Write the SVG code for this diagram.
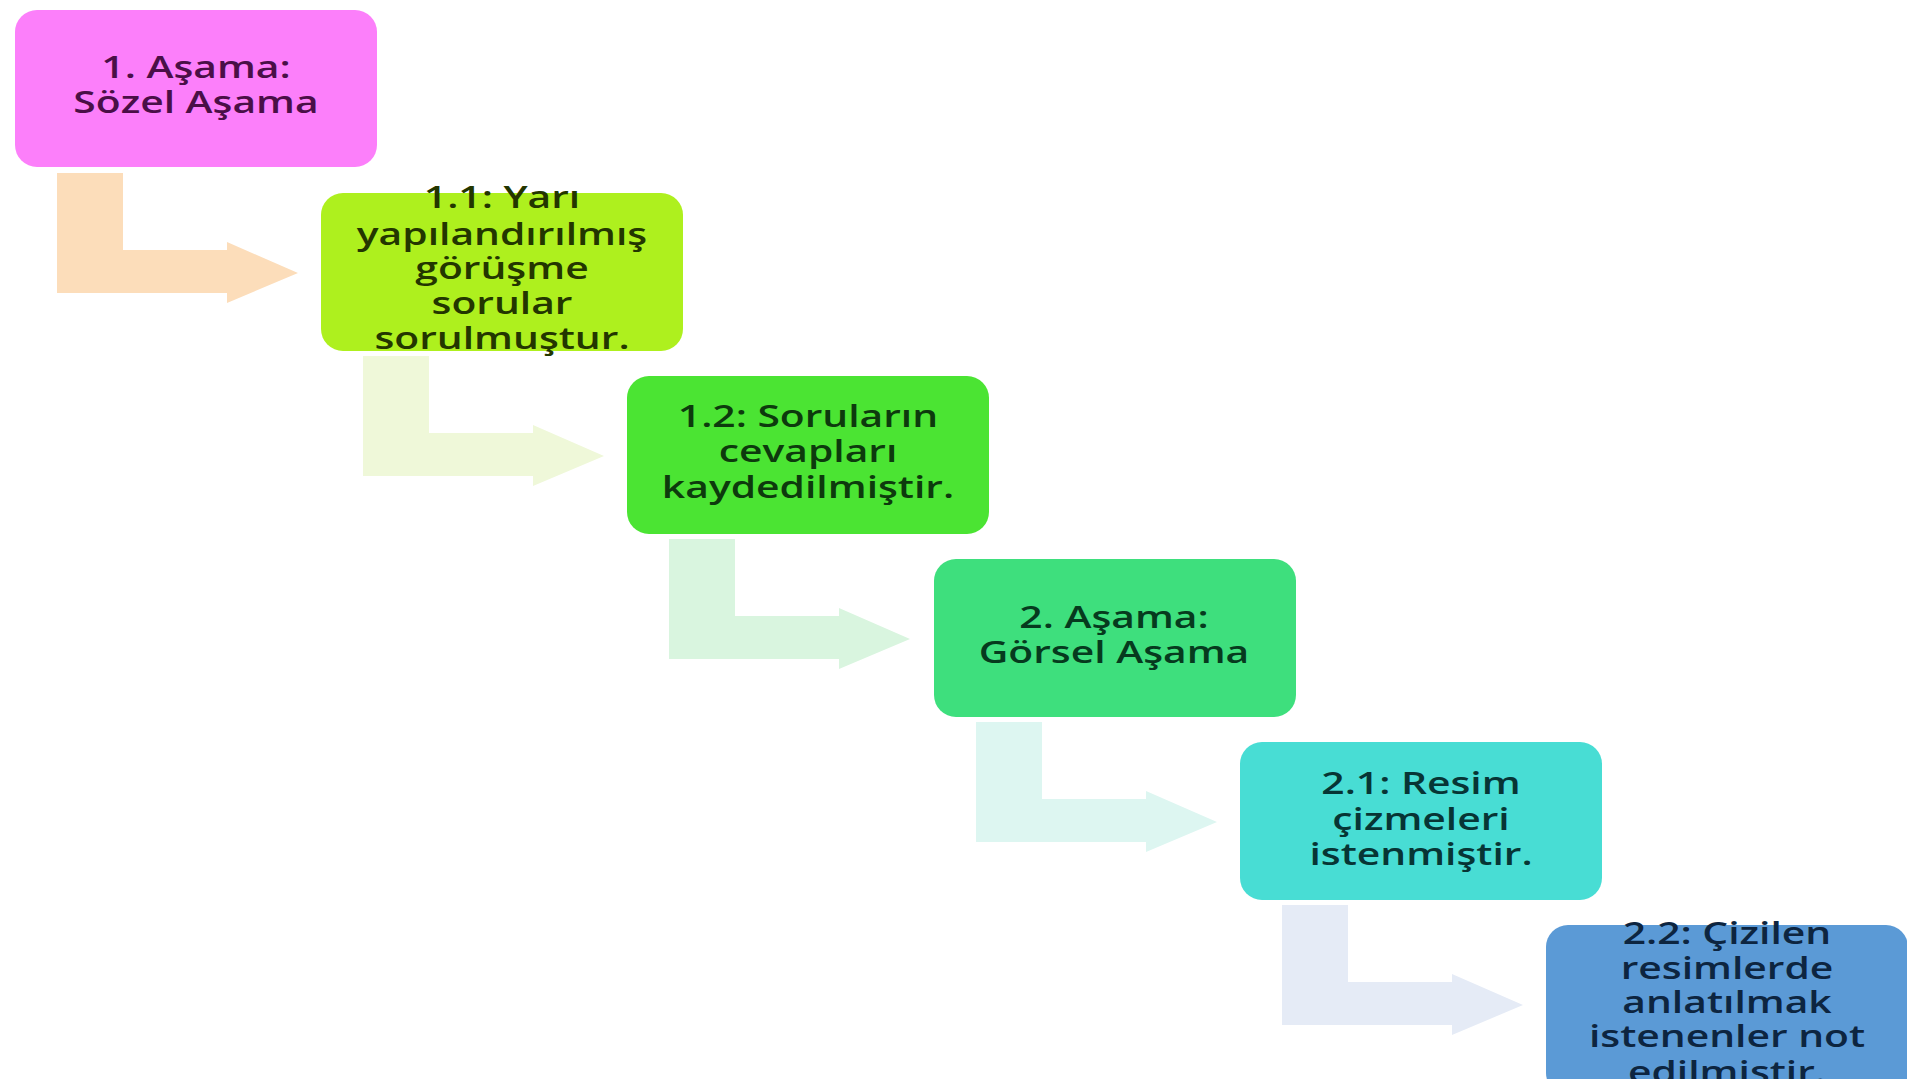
<svg xmlns="http://www.w3.org/2000/svg" width="1907" height="1091" viewBox="0 0 1907 1091">
<style>
.box{stroke:none}
.t{font-family:"Open Sans","Liberation Sans",sans-serif;font-size:30px;font-weight:600;text-anchor:middle}
</style>
<defs>
<path id="arr" d="M42,163 H108 V240 H212 V232 L283,263 L212,293 V283 H42 Z"/>
<clipPath id="clipAll"><rect x="0" y="0" width="1907" height="1079"/></clipPath>
</defs>
<rect width="1907" height="1091" fill="#ffffff"/>
<g id="connectors">
<use href="#arr" transform="translate(15,10)" fill="#FCDDBA"/>
<use href="#arr" transform="translate(321,193)" fill="#EFF8D9"/>
<use href="#arr" transform="translate(627,376)" fill="#D9F5DF"/>
<use href="#arr" transform="translate(934,559)" fill="#DDF6F1"/>
<use href="#arr" transform="translate(1240,742)" fill="#E5EBF6"/>
</g>
<g id="n1">
<rect class="box" x="15" y="10" width="362" height="157" rx="22" fill="#FC7FFA"/>
<text class="t" fill="#4A0F47" transform="translate(196,0) scale(1.36,1)"><tspan x="0" y="78">1. Aşama:</tspan><tspan x="0" y="113">Sözel Aşama</tspan></text>
</g>
<g id="n11">
<rect class="box" x="321" y="193" width="362" height="158" rx="22" fill="#AEF01E"/>
<text class="t" fill="#233600" transform="translate(502,0) scale(1.36,1)"><tspan x="0" y="208">1.1: Yarı</tspan><tspan x="0" y="245">yapılandırılmış</tspan><tspan x="0" y="279">görüşme</tspan><tspan x="0" y="314">sorular</tspan><tspan x="0" y="349">sorulmuştur.</tspan></text>
</g>
<g id="n12">
<rect class="box" x="627" y="376" width="362" height="158" rx="22" fill="#4BE433"/>
<text class="t" fill="#0D3A0D" transform="translate(808,0) scale(1.36,1)"><tspan x="0" y="427">1.2: Soruların</tspan><tspan x="0" y="462">cevapları</tspan><tspan x="0" y="498">kaydedilmiştir.</tspan></text>
</g>
<g id="n2">
<rect class="box" x="934" y="559" width="362" height="158" rx="22" fill="#3EDF7D"/>
<text class="t" fill="#063A1E" transform="translate(1114,0) scale(1.36,1)"><tspan x="0" y="628">2. Aşama:</tspan><tspan x="0" y="663">Görsel Aşama</tspan></text>
</g>
<g id="n21">
<rect class="box" x="1240" y="742" width="362" height="158" rx="22" fill="#48DDD4"/>
<text class="t" fill="#073535" transform="translate(1421,0) scale(1.36,1)"><tspan x="0" y="794">2.1: Resim</tspan><tspan x="0" y="830">çizmeleri</tspan><tspan x="0" y="865">istenmiştir.</tspan></text>
</g>
<g id="n22" clip-path="url(#clipAll)">
<rect class="box" x="1546" y="925" width="362" height="170" rx="22" fill="#5B9AD6"/>
<text class="t" fill="#0D2540" transform="translate(1727,0) scale(1.36,1)"><tspan x="0" y="944">2.2: Çizilen</tspan><tspan x="0" y="979">resimlerde</tspan><tspan x="0" y="1013">anlatılmak</tspan><tspan x="0" y="1047">istenenler not</tspan><tspan x="0" y="1083">edilmiştir.</tspan></text>
</g>
</svg>
